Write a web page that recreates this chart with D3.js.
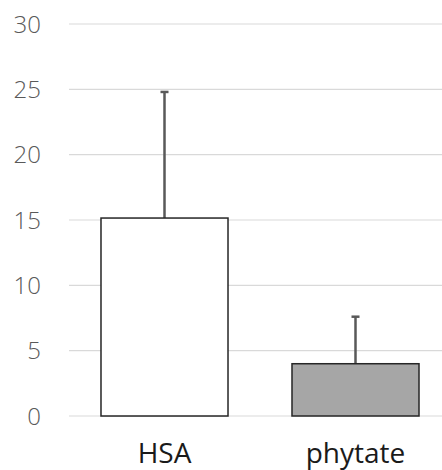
<!DOCTYPE html>
<html>
<head>
<meta charset="utf-8">
<script src="https://cdn.jsdelivr.net/npm/d3@7"></script>
<style>
  body { margin: 0; background: #fff; }
  svg { display: block; }
</style>
</head>
<body>
<svg id="chart" width="442" height="470"></svg>
<script>
// data
const categories = ["HSA", "phytate"]
const values = [15.15, 4.0]
const errors = [9.65, 3.6]
const fills = ["#ffffff", "#a6a6a6"]
const yTicks = [0, 5, 10, 15, 20, 25, 30]

const width = 442
const height = 470
const margin = {top: 24, right: -9, bottom: 54, left: 69}

var svg = d3.select("#chart")

var x = d3.scaleBand()
    .domain(categories)
    .range([margin.left, width - margin.right])
    .paddingInner(0.335)
    .paddingOuter(0.1675)

var y = d3.scaleLinear()
    .domain([0, 30])
    .range([height - margin.bottom, margin.top])

// gridlines
svg.append("g")
    .selectAll("line")
    .data(yTicks)
    .enter().append("line")
    .attr("x1", margin.left)
    .attr("x2", width)
    .attr("y1", d => y(d))
    .attr("y2", d => y(d))
    .attr("stroke", "#d9d9d9")
    .attr("stroke-width", 1.2)

// y tick labels
svg.append("g")
    .selectAll("text")
    .data(yTicks)
    .enter().append("text")
    .attr("x", 41)
    .attr("y", d => y(d))
    .attr("dy", "0.36em")
    .attr("text-anchor", "end")
    .attr("font-family", "Open Sans")
    .attr("font-weight", 300)
    .attr("font-size", 24)
    .attr("fill", "#595959")
    .text(d => d)

// error bars (drawn first, bars cover the lower half)
var err = svg.append("g")
    .attr("stroke", "#595959")
    .attr("stroke-width", 2.5)
err.selectAll("line.stem")
    .data(categories)
    .enter().append("line")
    .attr("class", "stem")
    .attr("x1", d => x(d) + x.bandwidth() / 2)
    .attr("x2", d => x(d) + x.bandwidth() / 2)
    .attr("y1", (d, i) => y(values[i]))
    .attr("y2", (d, i) => y(values[i] + errors[i]))
err.selectAll("line.cap")
    .data(categories)
    .enter().append("line")
    .attr("class", "cap")
    .attr("x1", d => x(d) + x.bandwidth() / 2 - 4)
    .attr("x2", d => x(d) + x.bandwidth() / 2 + 4)
    .attr("y1", (d, i) => y(values[i] + errors[i]))
    .attr("y2", (d, i) => y(values[i] + errors[i]))

// bars
svg.append("g")
    .selectAll("rect")
    .data(categories)
    .enter().append("rect")
    .attr("x", d => x(d))
    .attr("y", (d, i) => y(values[i]))
    .attr("width", x.bandwidth())
    .attr("height", (d, i) => y(0) - y(values[i]))
    .attr("fill", (d, i) => fills[i])
    .attr("stroke", "#262626")
    .attr("stroke-width", 1.5)

// category labels
svg.append("g")
    .selectAll("text")
    .data(categories)
    .enter().append("text")
    .attr("x", d => x(d) + x.bandwidth() / 2)
    .attr("y", 463)
    .attr("text-anchor", "middle")
    .attr("font-family", "Open Sans")
    .attr("font-size", 28)
    .attr("fill", "#1a1a1a")
    .text(d => d)
</script>
</body>
</html>
